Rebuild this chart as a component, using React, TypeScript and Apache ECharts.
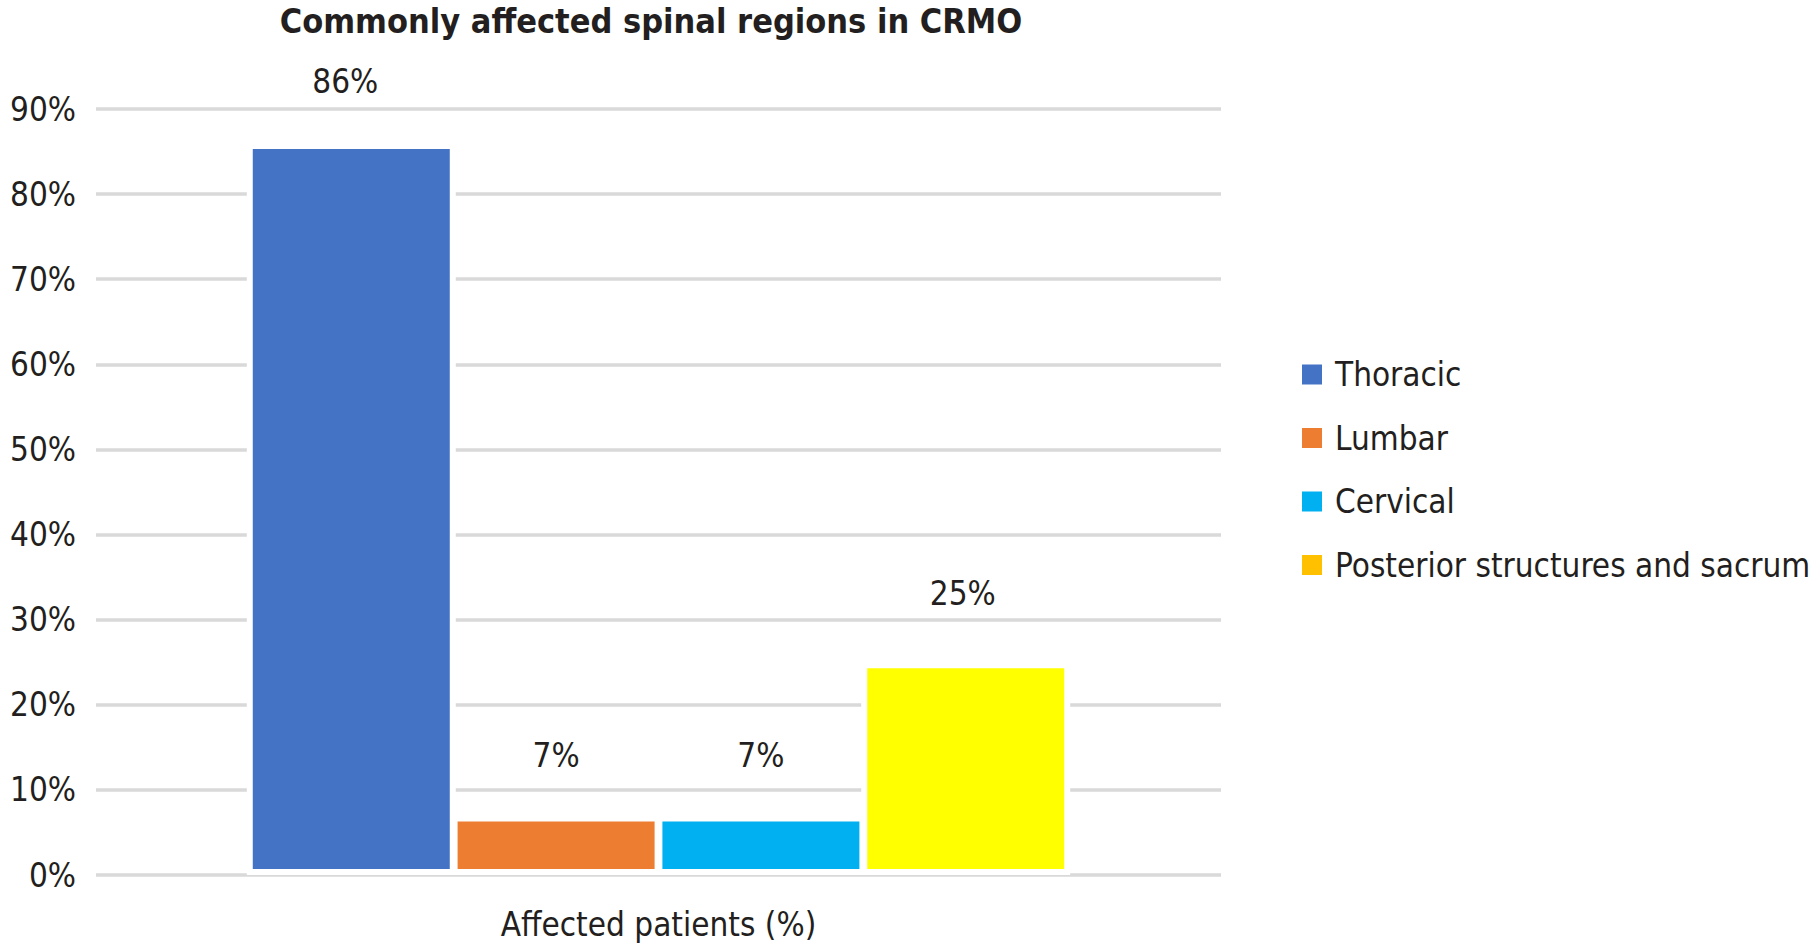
import React, { useEffect, useRef } from "react";
import * as echarts from "echarts";

const chartTitle = "Commonly affected spinal regions in CRMO";
const categories = ["Affected patients (%)"];
const seriesNames = ["Thoracic", "Lumbar", "Cervical", "Posterior structures and sacrum"];
const seriesValues = [86, 7, 7, 25];
const barColors = ["#4472C4", "#ED7D31", "#00B0F0", "#FFFF00"];
const legendColors = ["#4472C4", "#ED7D31", "#00B0F0", "#FFC000"];
const labelDistances = [45, 43, 43, 52];
const labelOffsets = [[-6, 0], [0, 0], [0, 0], [-3, 0]];

const FONT = "'DejaVu Sans Condensed', 'Liberation Sans Narrow', 'DejaVu Sans', sans-serif";
const TEXT = "#231f20";

export default function App() {
  const ref = useRef<HTMLDivElement>(null);
  useEffect(() => {
    if (!ref.current) return;
    const chart = echarts.init(ref.current, null, { renderer: "svg" });
    const series = seriesNames.map((name, i) => ({
      name,
      type: "bar",
      data: [seriesValues[i]],
      barWidth: 209,
      barGap: "-2%",
      itemStyle: { color: barColors[i], borderColor: "#ffffff", borderWidth: 6 },
      label: {
        show: true,
        position: "top",
        distance: labelDistances[i],
        offset: labelOffsets[i],
        formatter: (p: any) => `${p.value}%`,
        fontFamily: FONT,
        fontSize: 33,
        color: TEXT,
      },
    }));
    chart.setOption({
      animation: false,
      backgroundColor: "#ffffff",
      title: {
        text: chartTitle,
        left: 651,
        top: 3,
        padding: 0,
        textAlign: "center",
        textStyle: { fontFamily: FONT, fontSize: 34, fontWeight: "bold", color: TEXT, lineHeight: 36 },
      },
      legend: {
        orient: "vertical",
        left: 1300,
        top: 358,
        padding: 0,
        itemWidth: 22,
        itemHeight: 22,
        itemGap: 30.5,
        icon: "rect",
        data: seriesNames.map((n, i) => ({ name: n, itemStyle: { color: legendColors[i] } })),
        textStyle: { fontFamily: FONT, fontSize: 33, color: TEXT, lineHeight: 33, padding: [0, 0, 0, 7] },
      },
      grid: { left: 96, right: 597, top: 109, bottom: 77, containLabel: false },
      xAxis: {
        type: "category",
        data: categories,
        axisLine: { show: false },
        axisTick: { show: false },
        axisLabel: { margin: 33, fontFamily: FONT, fontSize: 33, color: TEXT },
      },
      yAxis: {
        type: "value",
        min: 0,
        max: 90,
        interval: 10,
        axisLine: { show: false },
        axisTick: { show: false },
        axisLabel: { margin: 20, fontFamily: FONT, fontSize: 33, color: TEXT, formatter: "{value}%" },
        splitLine: { lineStyle: { color: "#d9d9d9", width: 3.5 } },
      },
      series,
    });
    return () => chart.dispose();
  }, []);
  return (
    <div
      ref={ref}
      style={{ position: "fixed", left: 0, top: 0, width: 1818, height: 952, background: "#fff" }}
    />
  );
}
